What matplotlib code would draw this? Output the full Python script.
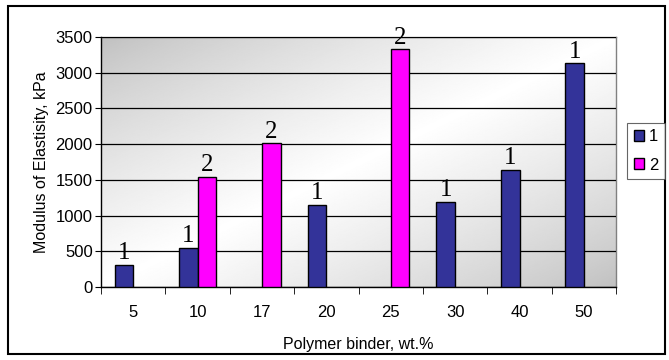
import matplotlib.pyplot as plt
import numpy as np
from matplotlib.patches import Rectangle

# polymer binder content, wt.%
categories = ['5', '10', '17', '20', '25', '30', '40', '50']
# modulus of elasticity, kPa (nan = no bar)
series1 = [310, 550, np.nan, 1150, np.nan, 1190, 1640, 3130]
series2 = [np.nan, 1540, 2010, np.nan, 3330, np.nan, np.nan, np.nan]
series_names = ['1', '2']
colors = ['#333399', '#ff00ff']

plt.rcParams['font.family'] = ['Liberation Sans', 'DejaVu Sans']

fig = plt.figure(figsize=(6.69, 3.60), dpi=100)
ax = fig.add_axes([0.151, 0.203, 0.770, 0.694])

x = np.arange(len(categories))
w = 0.29

# gray -> white -> gray diagonal background
gx, gy = np.meshgrid(np.linspace(0, 1, 300), np.linspace(0, 1, 300))
t = (gx + gy) / 2
g = 0.75 + 0.25 * (1 - np.abs(t - 0.5) * 2) ** 0.8
ax.imshow(g, cmap='gray', vmin=0, vmax=1, extent=[-0.5, 7.5, 0, 3500],
          aspect='auto', zorder=0, origin='upper')

for vals, off, c, name in [(series1, -w / 2, colors[0], series_names[0]),
                           (series2, w / 2, colors[1], series_names[1])]:
    vals = np.array(vals, dtype=float)
    ax.bar(x + off, vals, width=w, color=c, edgecolor='black', linewidth=1, zorder=3)
    for xi, v in zip(x + off, vals):
        if not np.isnan(v):
            ax.text(xi, v + 10, name, ha='center', va='bottom',
                    family='Liberation Serif', fontsize=18, zorder=4)

ax.set_xlim(-0.5, 7.5)
ax.set_ylim(0, 3500)
ax.set_yticks(np.arange(0, 3501, 500))
ax.yaxis.grid(True, color='black', linewidth=0.9, zorder=1)
ax.set_axisbelow(False)

ax.set_xticks(x)
ax.set_xticklabels(categories)
ax.set_xticks(np.arange(-0.5, 8, 1), minor=True)
ax.tick_params(axis='x', which='major', length=0, pad=13, labelsize=12)
ax.tick_params(axis='x', which='minor', length=5, color='black', direction='out')
ax.tick_params(axis='y', length=4, labelsize=12, pad=2)

for s in ax.spines.values():
    s.set_color('#808080')
    s.set_linewidth(1)
ax.spines['left'].set_color('black')
ax.spines['bottom'].set_color('black')

ax.set_xlabel('Polymer binder, wt.%', fontsize=11.5, labelpad=12)
ax.set_ylabel('Modulus of Elastisity, kPa', fontsize=11.5, labelpad=5)

handles = [Rectangle((0, 0), 1, 1, facecolor=c, edgecolor='black') for c in colors]
leg = fig.legend(handles, series_names, loc='center', bbox_to_anchor=(0.966, 0.581),
                 fontsize=12, frameon=True, fancybox=False, handlelength=0.6,
                 handleheight=0.6, handletextpad=0.3, borderpad=0.4, labelspacing=0.8)
leg.get_frame().set_edgecolor('#404040')
leg.get_frame().set_linewidth(0.8)

# outer frame around the chart
fig.patches.append(Rectangle((8 / 669, 6 / 360), 657 / 669, 348 / 360, transform=fig.transFigure,
                             fill=False, edgecolor='black', linewidth=1.5))

fig.savefig('out.png', dpi=100)
